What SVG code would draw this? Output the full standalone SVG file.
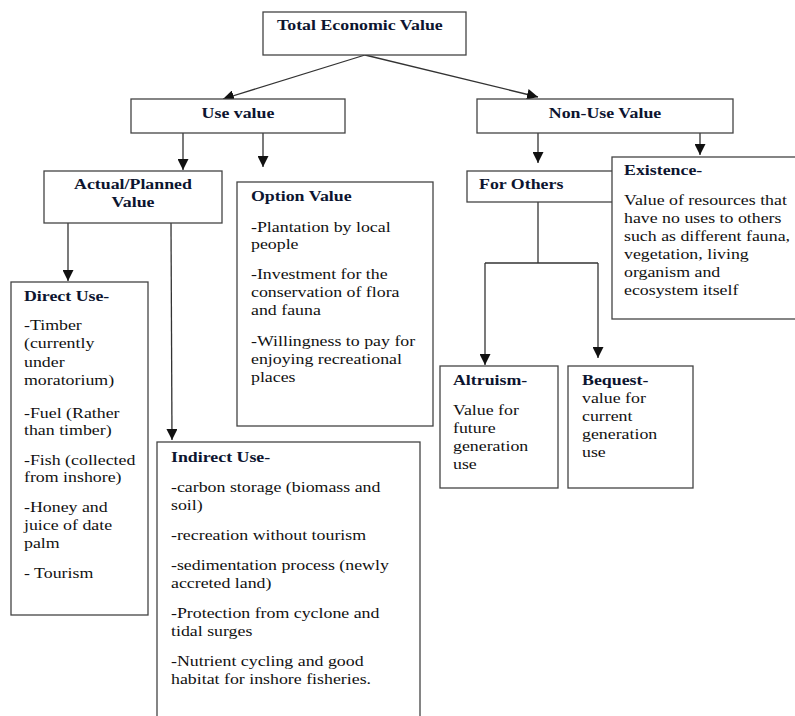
<svg xmlns="http://www.w3.org/2000/svg" width="795" height="716" viewBox="0 0 795 716">
<defs>
<marker id="ah" viewBox="0 0 10 10" refX="10" refY="5" markerWidth="11" markerHeight="11" markerUnits="userSpaceOnUse" orient="auto">
<path d="M0,0 L10,5 L0,10 Z" fill="#111"/>
</marker>
<style>
.box{fill:#fff;stroke:#444;stroke-width:1.3}
.t{font-family:"Liberation Serif","DejaVu Serif",serif;font-size:15px;fill:#111}
.h{font-family:"Liberation Serif","DejaVu Serif",serif;font-size:15px;font-weight:700;fill:#0d1530}
.c{fill:none;stroke:#333;stroke-width:1.3}
</style>
</defs>
<rect width="795" height="716" fill="#fff"/>
<g id="connectors">
<line class="c" x1="365" y1="55" x2="223" y2="99" marker-end="url(#ah)"/>
<line class="c" x1="365" y1="55" x2="538" y2="97" marker-end="url(#ah)"/>
<line class="c" x1="183" y1="133" x2="183" y2="170" marker-end="url(#ah)"/>
<line class="c" x1="263" y1="133" x2="263" y2="167" marker-end="url(#ah)"/>
<line class="c" x1="538" y1="133" x2="538" y2="163" marker-end="url(#ah)"/>
<line class="c" x1="700" y1="133" x2="700" y2="155" marker-end="url(#ah)"/>
<line class="c" x1="68" y1="223" x2="68" y2="281" marker-end="url(#ah)"/>
<line class="c" x1="171" y1="223" x2="172" y2="440" marker-end="url(#ah)"/>
<line class="c" x1="538" y1="202" x2="538" y2="263"/>
<line class="c" x1="485" y1="263" x2="598" y2="263"/>
<line class="c" x1="485" y1="263" x2="485" y2="365" marker-end="url(#ah)"/>
<line class="c" x1="598" y1="263" x2="598" y2="358" marker-end="url(#ah)"/>
</g>
<g id="tev">
<rect class="box" x="263" y="12" width="203" height="43"/>
<g transform="matrix(1.19,0,0,1,-52.63,0)">
<text class="h" x="277" y="30">Total Economic Value</text>
</g>
</g>
<g id="use-value">
<rect class="box" x="131" y="99" width="214" height="34"/>
<g transform="matrix(1.19,0,0,1,-45.22,0)">
<text class="h" x="238" y="118" text-anchor="middle">Use value</text>
</g>
</g>
<g id="non-use-value">
<rect class="box" x="477" y="99" width="256" height="34"/>
<g transform="matrix(1.19,0,0,1,-114.95,0)">
<text class="h" x="605" y="118" text-anchor="middle">Non-Use Value</text>
</g>
</g>
<g id="actual-planned">
<rect class="box" x="44" y="171" width="178" height="52"/>
<g transform="matrix(1.19,0,0,1,-25.27,0)">
<text class="h" x="133" y="189" text-anchor="middle">Actual/Planned</text>
<text class="h" x="133" y="207" text-anchor="middle">Value</text>
</g>
</g>
<g id="option-value">
<rect class="box" x="237" y="182" width="196" height="244"/>
<g transform="matrix(1.19,0,0,1,-47.69,0)">
<text class="h" x="251" y="201">Option Value</text>
<text class="t" x="251" y="232">-Plantation by local</text>
<text class="t" x="251" y="249">people</text>
<text class="t" x="251" y="279">-Investment for the</text>
<text class="t" x="251" y="297">conservation of flora</text>
<text class="t" x="251" y="315">and fauna</text>
<text class="t" x="251" y="346">-Willingness to pay for</text>
<text class="t" x="251" y="364">enjoying recreational</text>
<text class="t" x="251" y="382">places</text>
</g>
</g>
<g id="for-others">
<rect class="box" x="467" y="171" width="160" height="31"/>
<g transform="matrix(1.19,0,0,1,-91.01,0)">
<text class="h" x="479" y="189">For Others</text>
</g>
</g>
<g id="existence">
<rect class="box" x="612" y="157" width="190" height="162"/>
<g transform="matrix(1.19,0,0,1,-118.56,0)">
<text class="h" x="624" y="175">Existence-</text>
<text class="t" x="624" y="205">Value of resources that</text>
<text class="t" x="624" y="223">have no uses to others</text>
<text class="t" x="624" y="241">such as different fauna,</text>
<text class="t" x="624" y="259">vegetation, living</text>
<text class="t" x="624" y="277">organism and</text>
<text class="t" x="624" y="295">ecosystem itself</text>
</g>
</g>
<g id="direct-use">
<rect class="box" x="11" y="282" width="137" height="333"/>
<g transform="matrix(1.19,0,0,1,-4.56,0)">
<text class="h" x="24" y="301">Direct Use-</text>
<text class="t" x="24" y="330">-Timber</text>
<text class="t" x="24" y="348">(currently</text>
<text class="t" x="24" y="367">under</text>
<text class="t" x="24" y="385">moratorium)</text>
<text class="t" x="24" y="418">-Fuel (Rather</text>
<text class="t" x="24" y="435">than timber)</text>
<text class="t" x="24" y="465">-Fish (collected</text>
<text class="t" x="24" y="482">from inshore)</text>
<text class="t" x="24" y="512">-Honey and</text>
<text class="t" x="24" y="530">juice of date</text>
<text class="t" x="24" y="548">palm</text>
<text class="t" x="24" y="578">- Tourism</text>
</g>
</g>
<g id="indirect-use">
<rect class="box" x="157" y="442" width="263" height="290"/>
<g transform="matrix(1.19,0,0,1,-32.49,0)">
<text class="h" x="171" y="462">Indirect Use-</text>
<text class="t" x="171" y="492">-carbon storage (biomass and</text>
<text class="t" x="171" y="510">soil)</text>
<text class="t" x="171" y="540">-recreation without tourism</text>
<text class="t" x="171" y="570">-sedimentation process (newly</text>
<text class="t" x="171" y="588">accreted land)</text>
<text class="t" x="171" y="618">-Protection from cyclone and</text>
<text class="t" x="171" y="636">tidal surges</text>
<text class="t" x="171" y="666">-Nutrient cycling and good</text>
<text class="t" x="171" y="684">habitat for inshore fisheries.</text>
</g>
</g>
<g id="altruism">
<rect class="box" x="440" y="366" width="118" height="122"/>
<g transform="matrix(1.19,0,0,1,-86.07,0)">
<text class="h" x="453" y="385">Altruism-</text>
<text class="t" x="453" y="415">Value for</text>
<text class="t" x="453" y="433">future</text>
<text class="t" x="453" y="451">generation</text>
<text class="t" x="453" y="469">use</text>
</g>
</g>
<g id="bequest">
<rect class="box" x="568" y="366" width="125" height="122"/>
<g transform="matrix(1.19,0,0,1,-110.58,0)">
<text class="h" x="582" y="385">Bequest-</text>
<text class="t" x="582" y="403">value for</text>
<text class="t" x="582" y="421">current</text>
<text class="t" x="582" y="439">generation</text>
<text class="t" x="582" y="457">use</text>
</g>
</g>
</svg>
